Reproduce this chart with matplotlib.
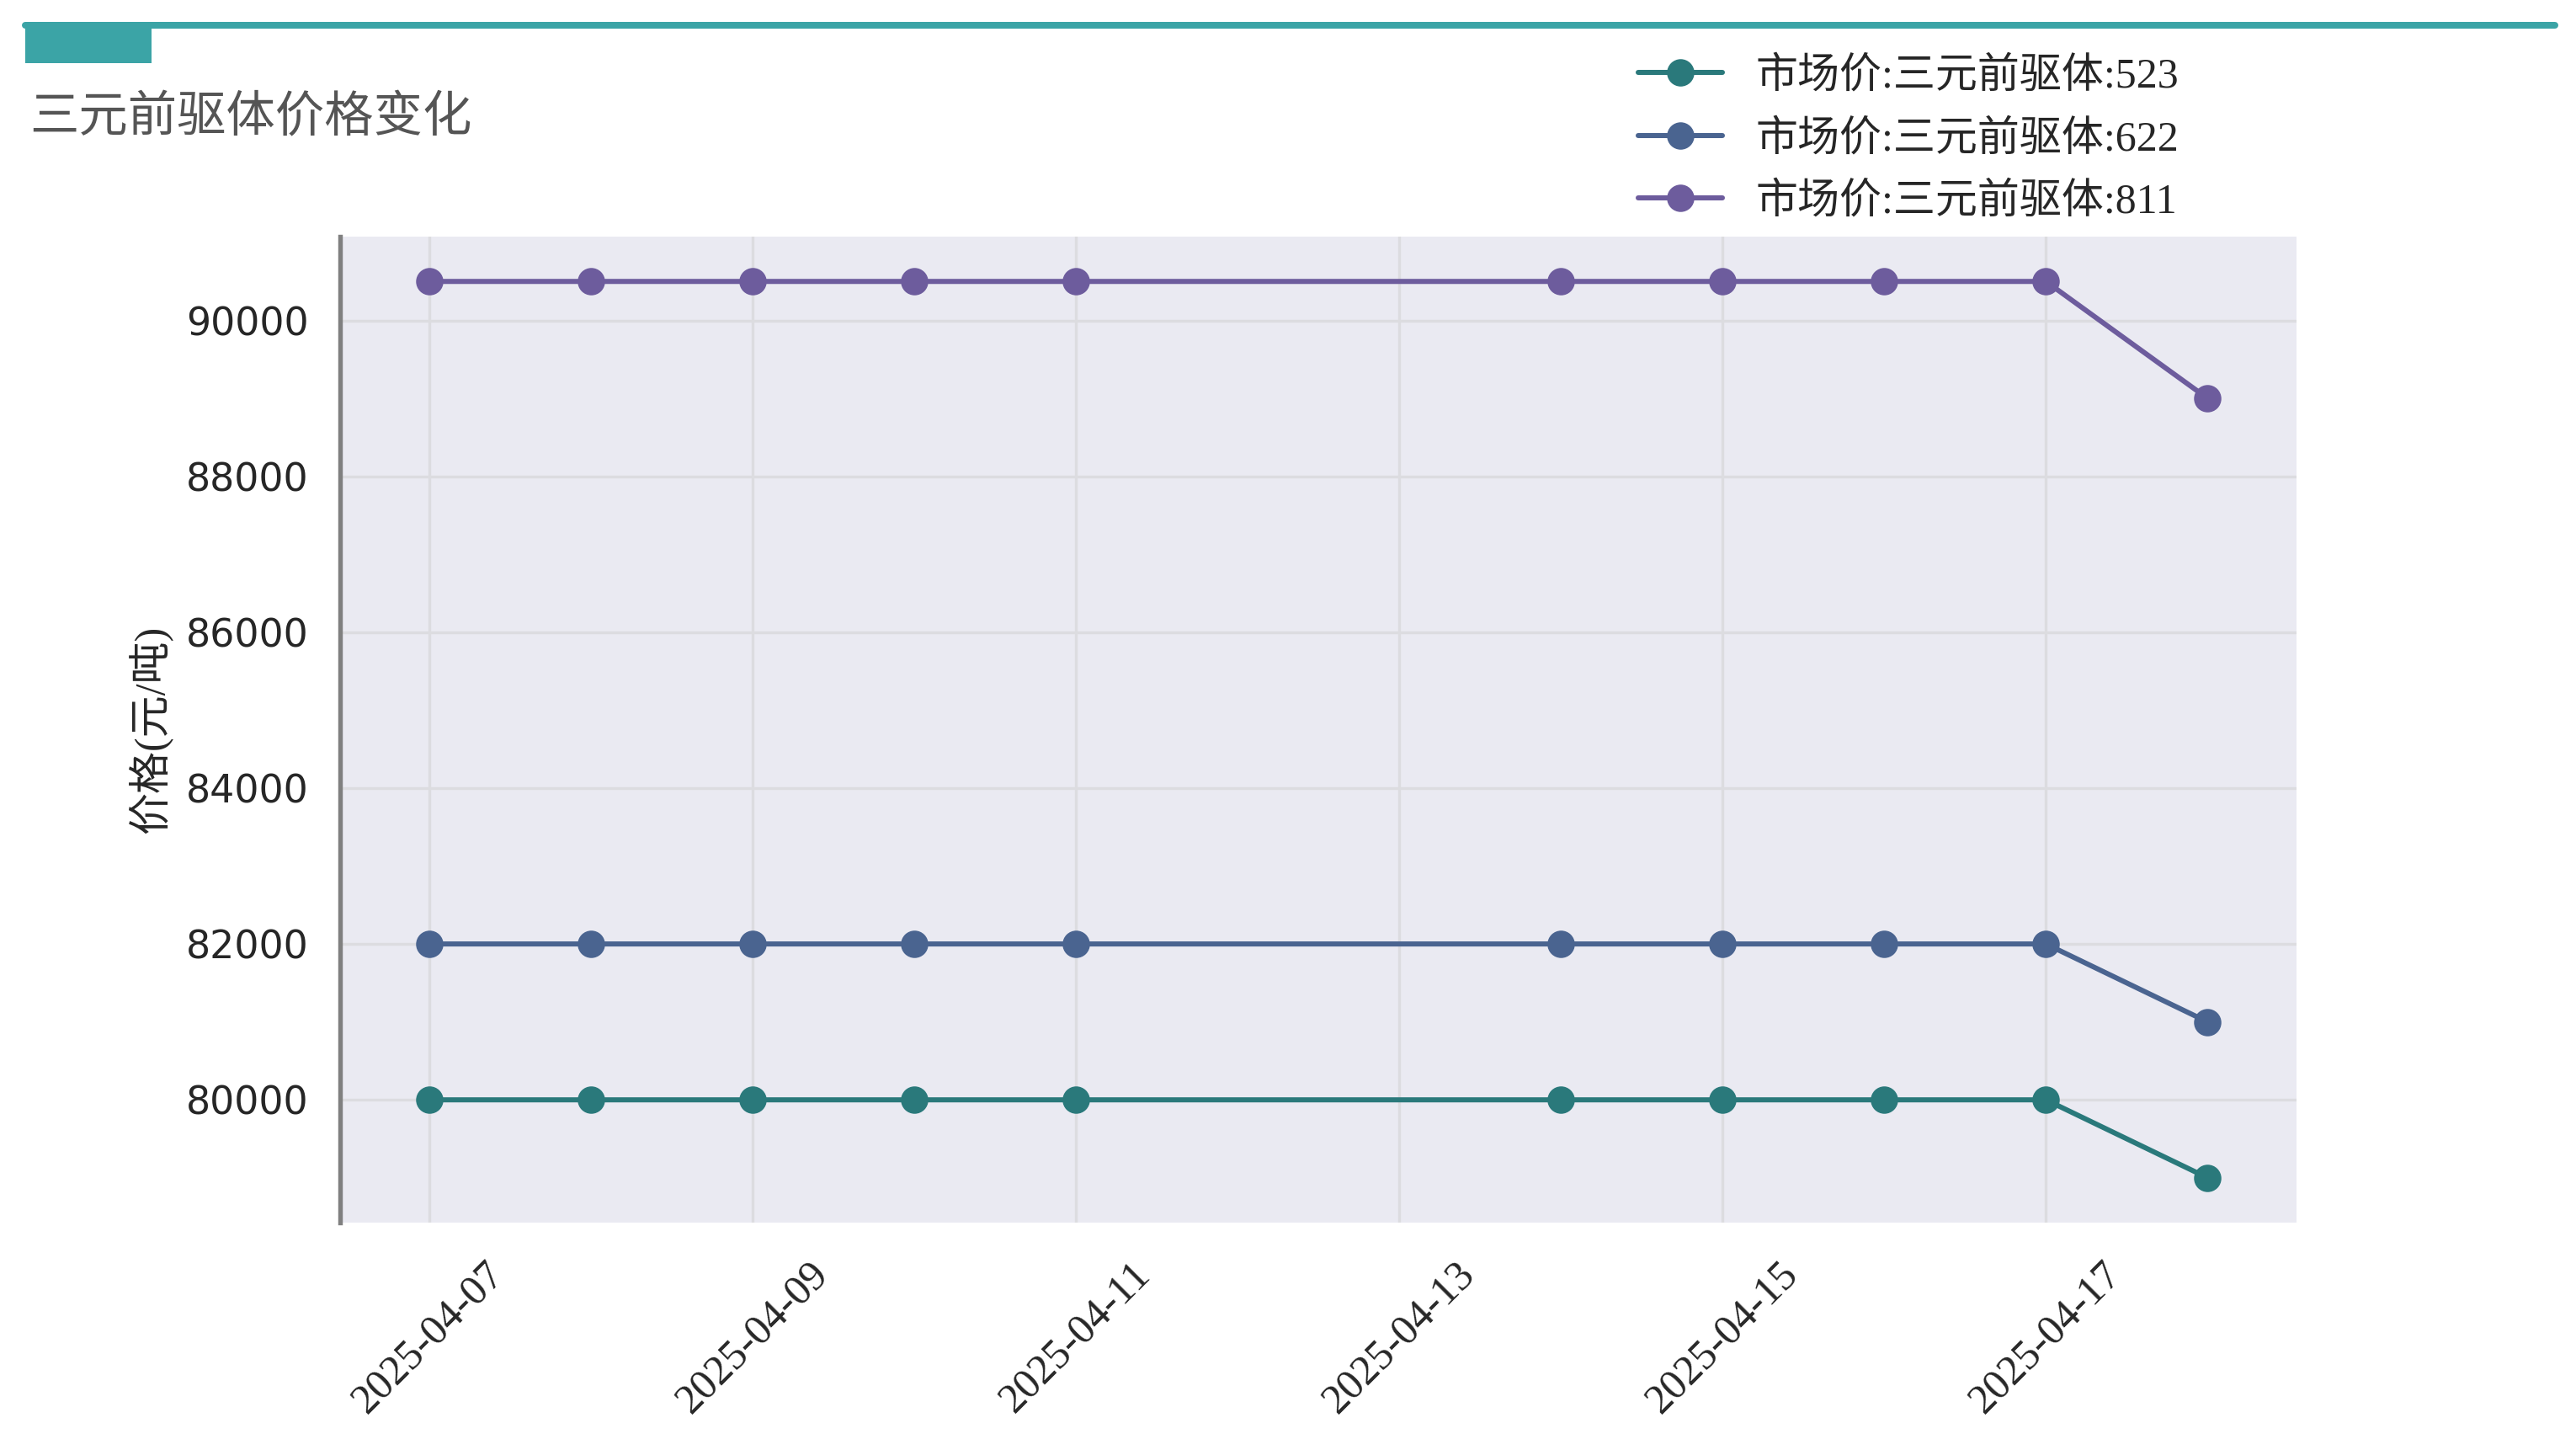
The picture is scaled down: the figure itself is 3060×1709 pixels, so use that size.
import pandas as pd
import matplotlib
matplotlib.use("Agg")
import matplotlib.pyplot as plt
import matplotlib.dates as mdates
from matplotlib.lines import Line2D
from matplotlib.patches import Rectangle
from matplotlib.font_manager import FontProperties

# data
dates = ['2025-04-07', '2025-04-08', '2025-04-09', '2025-04-10', '2025-04-11',
         '2025-04-14', '2025-04-15', '2025-04-16', '2025-04-17', '2025-04-18']
p523 = [80000, 80000, 80000, 80000, 80000, 80000, 80000, 80000, 80000, 79000]
p622 = [82000, 82000, 82000, 82000, 82000, 82000, 82000, 82000, 82000, 81000]
p811 = [90500, 90500, 90500, 90500, 90500, 90500, 90500, 90500, 90500, 89000]
labels = ['市场价:三元前驱体:523', '市场价:三元前驱体:622', '市场价:三元前驱体:811']
colors = ['#2A797B', '#4A6490', '#6D5C9D']

title = '三元前驱体价格变化'
ylabel = '价格(元/吨)'

W, H, DPI = 3060, 1709, 300
cjk = ['Liberation Serif', 'Noto Sans CJK SC', 'DejaVu Sans']

fig = plt.figure(figsize=(W / DPI, H / DPI), dpi=DPI)
fig.patch.set_facecolor('white')

# header decoration
fig.add_artist(Line2D([30 / W, 3035 / W], [1 - 30 / H, 1 - 30 / H], transform=fig.transFigure,
                      color='#3BA4A6', linewidth=8 * 72 / DPI, solid_capstyle='round'))
fig.add_artist(Rectangle((30 / W, 1 - 75 / H), 150 / W, 49 / H, transform=fig.transFigure,
                         facecolor='#3BA4A6', edgecolor='none'))
fig.text(35 / W, 1 - 141 / H, title, fontsize=14, color='#555555', family=cjk, va='center')

ax = fig.add_axes([404 / W, 1 - 1452 / H, (2728 - 404) / W, (1452 - 281) / H])
ax.set_facecolor('#EAEAF2')

x = pd.to_datetime(dates)
for vals, lab, c in zip([p523, p622, p811], labels, colors):
    ax.plot(x, vals, color=c, linewidth=1.45, marker='o', markersize=6.8,
            solid_capstyle='round', label=lab)

ax.grid(True, color='#DCDCE0', linewidth=0.8)
ax.set_axisbelow(True)
for s in ['top', 'right', 'bottom']:
    ax.spines[s].set_visible(False)
ax.spines['left'].set_color('#808080')
ax.spines['left'].set_linewidth(1.3)

ax.xaxis.set_major_formatter(mdates.DateFormatter('%Y-%m-%d'))
ax.tick_params(axis='both', length=0, colors='#262626')
ax.tick_params(axis='y', pad=9, labelsize=11)
ax.tick_params(axis='x', pad=9)
for t in ax.get_yticklabels():
    t.set_family('DejaVu Sans')
for t in ax.get_xticklabels():
    t.set_family('Liberation Serif')
    t.set_fontsize(12)
    t.set_rotation(45)
    t.set_ha('center')

ax.set_ylabel(ylabel, fontsize=12, family=cjk, color='#262626')

leg = ax.legend(loc='upper left', bbox_to_anchor=(0.6212, 0.9867), bbox_transform=fig.transFigure,
                frameon=False, labelspacing=0.55, prop=FontProperties(family=cjk, size=12))
for t in leg.get_texts():
    t.set_color('#262626')

fig.savefig('out.png', dpi=DPI)
